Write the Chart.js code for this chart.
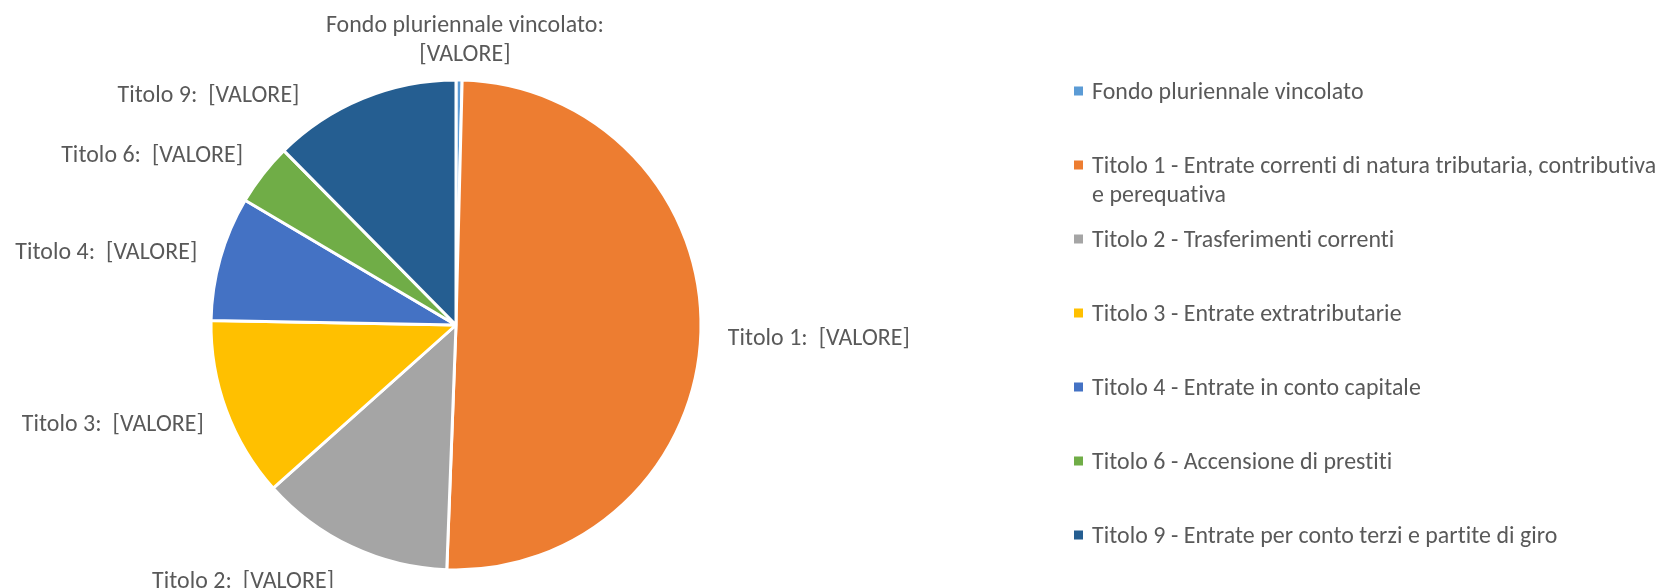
<!DOCTYPE html>
<html>
<head>
<meta charset="utf-8">
<script src="https://cdn.jsdelivr.net/npm/chart.js@4/dist/chart.umd.min.js"></script>
<style>
  html, body { margin: 0; padding: 0; background: #ffffff; }
  #wrap { width: 1662px; height: 588px; position: relative; }
  canvas { font-variant-ligatures: none; }
</style>
</head>
<body>
<div id="wrap"><canvas id="c" width="1662" height="588"></canvas></div>
<script>
// ---- data ----
const categories = [
  "Fondo pluriennale vincolato",
  "Titolo 1 - Entrate correnti di natura tributaria, contributiva e perequativa",
  "Titolo 2 - Trasferimenti correnti",
  "Titolo 3 - Entrate extratributarie",
  "Titolo 4 - Entrate in conto capitale",
  "Titolo 6 - Accensione di prestiti",
  "Titolo 9 - Entrate per conto terzi e partite di giro"
];
const labelNames = ["Fondo pluriennale vincolato", "Titolo 1", "Titolo 2", "Titolo 3", "Titolo 4", "Titolo 6", "Titolo 9"];
const values = [0.4, 50.2, 12.8, 11.9, 8.2, 4.1, 12.4];
const valueText = "[VALORE]";

// ---- styles ----
const colors = ["#5B9BD5", "#ED7D31", "#A5A5A5", "#FFC000", "#4472C4", "#70AD47", "#255E91"];
const FONT = '"Carlito", "Lato", sans-serif';
const FONT_SIZE = 24;
const TEXT_COLOR = "#595959";
const LABEL_GAP = 25;
const LINE_H = 29;
const CAP_HALF = 7.7;
// label nudges (px) relative to the computed outside anchor
const labelNudge = [[5.5, -2], [2, 4], [-7, 11], [1, 4], [1, 0], [0, -5], [-54, 19]];
// legend layout
const LEG_MARK_X = 1074, LEG_MARK = 9, LEG_TEXT_X = 1092, LEG_TOP = 91, LEG_STEP = 74, LEG_MAXW = 568;

let SX = 1;
function setFont(ctx) {
  ctx.font = FONT_SIZE + "px " + FONT;
  // non-zero letter spacing switches off optional ligatures (e.g. "ti")
  if ("letterSpacing" in ctx) ctx.letterSpacing = "0.05px";
}
function fitScale(ctx) {
  ctx.save();
  setFont(ctx);
  const w = ctx.measureText("Titolo 1:  [VALORE]").width;
  ctx.restore();
  SX = Math.max(0.75, Math.min(1.15, 182 / w));
}
function drawText(ctx, text, x, y, align) {
  ctx.save();
  ctx.translate(x, y);
  ctx.scale(SX, 1);
  ctx.textAlign = align;
  ctx.fillText(text, 0, 0);
  ctx.restore();
}
function wrap(ctx, text, maxW) {
  const words = text.split(" ");
  const lines = [];
  let cur = "";
  words.forEach(w => {
    const t = cur ? cur + " " + w : w;
    if (ctx.measureText(t).width * SX > maxW && cur) { lines.push(cur); cur = w; }
    else cur = t;
  });
  if (cur) lines.push(cur);
  return lines;
}

const sliceLabels = {
  id: "sliceLabels",
  afterDatasetsDraw(chart) {
    const ctx = chart.ctx;
    fitScale(ctx);
    const meta = chart.getDatasetMeta(0);
    ctx.save();
    setFont(ctx);
    ctx.fillStyle = TEXT_COLOR;
    ctx.textBaseline = "alphabetic";
    meta.data.forEach((arc, i) => {
      const p = arc.getProps(["x", "y", "startAngle", "endAngle", "outerRadius"], true);
      const a = (p.startAngle + p.endAngle) / 2;
      const r = p.outerRadius + LABEL_GAP;
      const ax = p.x + Math.cos(a) * r + labelNudge[i][0];
      const ay = p.y + Math.sin(a) * r + labelNudge[i][1];
      const c = Math.cos(a);
      const align = Math.abs(c) < 0.2 ? "center" : (c > 0 ? "left" : "right");
      const lines = i === 0 ? [labelNames[i] + ":", valueText] : [labelNames[i] + ":  " + valueText];
      lines.forEach((ln, k) => {
        const y = ay - (lines.length - 1 - k) * LINE_H + CAP_HALF;
        drawText(ctx, ln, ax, y, align);
      });
    });
    ctx.restore();
  },
  afterDraw(chart) {
    const ctx = chart.ctx;
    ctx.save();
    setFont(ctx);
    ctx.textBaseline = "alphabetic";
    chart.data.labels.forEach((lab, i) => {
      const cy = LEG_TOP + LEG_STEP * i;
      ctx.fillStyle = chart.data.datasets[0].backgroundColor[i];
      ctx.fillRect(LEG_MARK_X, cy - LEG_MARK / 2, LEG_MARK, LEG_MARK);
      ctx.fillStyle = TEXT_COLOR;
      const lines = wrap(ctx, lab, LEG_MAXW);
      lines.forEach((ln, k) => drawText(ctx, ln, LEG_TEXT_X, cy + CAP_HALF + k * LINE_H, "left"));
    });
    ctx.restore();
  }
};

new Chart(document.getElementById("c"), {
  type: "pie",
  data: {
    labels: categories,
    datasets: [{
      data: values,
      backgroundColor: colors,
      borderColor: "#ffffff",
      borderWidth: 3
    }]
  },
  options: {
    responsive: false,
    devicePixelRatio: 1,
    animation: false,
    radius: 245,
    layout: { padding: { left: 200, right: 950, top: 71, bottom: 9 } },
    plugins: {
      legend: { display: false },
      tooltip: { enabled: false }
    },
    events: []
  },
  plugins: [sliceLabels]
});
</script>
</body>
</html>
